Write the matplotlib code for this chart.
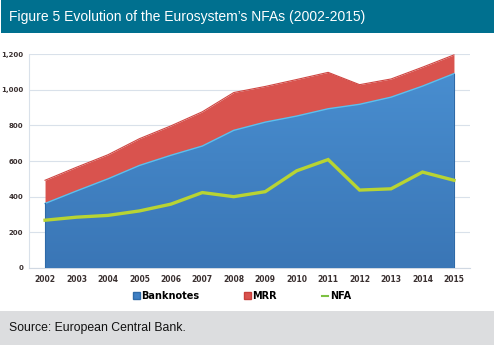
import numpy as np
import matplotlib.pyplot as plt
from matplotlib.patches import Rectangle
from matplotlib.colors import LinearSegmentedColormap

years = [2002, 2003, 2004, 2005, 2006, 2007, 2008, 2009, 2010, 2011, 2012, 2013, 2014, 2015]
banknotes = [362, 432, 500, 575, 632, 684, 772, 818, 852, 893, 918, 958, 1020, 1090]
mrr = [130, 133, 135, 150, 165, 192, 212, 200, 205, 204, 110, 102, 106, 105]
nfa = [268, 285, 295, 320, 358, 423, 400, 428, 545, 608, 437, 444, 538, 492]
yticks = [0, 200, 400, 600, 800, 1000, 1200]

total = [b + m for b, m in zip(banknotes, mrr)]

W, H = 494, 345
fig = plt.figure(figsize=(W / 100, H / 100), dpi=100)
fig.patch.set_facecolor('white')

# header and footer bands
fig.patches.append(Rectangle((1 / W, 1 - 33 / H), 1, 33 / H, transform=fig.transFigure,
                             facecolor='#00708F', edgecolor='none', zorder=0))
fig.patches.append(Rectangle((0, 0), 1, 34 / H, transform=fig.transFigure,
                             facecolor='#DCDDDF', edgecolor='none', zorder=0))
fig.text(9 / W, 1 - 16.5 / H, "Figure 5 Evolution of the Eurosystem\u2019s NFAs (2002-2015)",
         color='white', fontsize=10, family='Liberation Sans', va='center', ha='left')
fig.text(9 / W, 17 / H, "Source: European Central Bank.", color='#111111',
         fontsize=8.8, family='Liberation Sans', va='center', ha='left')

ax = fig.add_axes([29 / W, 1 - 268 / H, 441 / W, 214 / H])
ax.set_xlim(2001.49, 2015.51)
ax.set_ylim(0, 1200)

# stacked areas
ax.fill_between(years, banknotes, total, color='#D9534E', linewidth=0, zorder=2)
ax.plot(years, total, color='#CF4642', linewidth=0.8, zorder=3)

blue = ax.fill_between(years, 0, banknotes, color='none', linewidth=0, zorder=3)
grad = np.linspace(0, 1, 256).reshape(-1, 1)
cmap = LinearSegmentedColormap.from_list('bl', ['#3A76B6', '#4A90D2'])
img = ax.imshow(grad, extent=[2002, 2015, 0, 1200], origin='lower', cmap=cmap,
                aspect='auto', zorder=3)
img.set_clip_path(blue.get_paths()[0], transform=ax.transData)
ax.plot(years, banknotes, color='#5BC0EE', linewidth=1.0, zorder=4)
ax.plot([2002, 2002], [0, banknotes[0]], color='#2E6AA8', linewidth=0.8, zorder=4)
ax.plot([2015, 2015], [0, banknotes[-1]], color='#2E6AA8', linewidth=0.8, zorder=4)

ax.plot(years, nfa, color='#B8D433', linewidth=2.4, zorder=5, solid_joinstyle='miter')

ax.set_xticks(years)
ax.set_xticklabels([str(y) for y in years])
ax.set_yticks(yticks)
ax.set_yticklabels([f"{v:,}" for v in yticks])
ax.tick_params(length=0, colors='#3A3030')
ax.tick_params(axis='x', labelsize=5.5, pad=5)
ax.tick_params(axis='y', labelsize=5, pad=4)
for lab in ax.get_xticklabels() + ax.get_yticklabels():
    lab.set_fontweight('bold')
ax.grid(axis='y', color='#D9E1EA', linewidth=0.8, zorder=0)
ax.set_axisbelow(True)
for s in ['top', 'right']:
    ax.spines[s].set_visible(False)
ax.spines['left'].set_color('#D9E1EA')
ax.spines['bottom'].set_color('#D0D8E2')

# legend
handles = [Rectangle((0, 0), 1, 1, facecolor='#3F80C4', edgecolor='#2E6AA8'),
           Rectangle((0, 0), 1, 1, facecolor='#D9534E', edgecolor='#C8403C'),
           plt.Line2D([0], [0], color='#7DC142', linewidth=1.5)]
fig.legend(handles, ['Banknotes', 'MRR', 'NFA'], loc='center', bbox_to_anchor=(242 / W, 1 - 296 / H),
           ncol=3, frameon=False, handlelength=0.7, handleheight=0.7,
           handletextpad=0.15, columnspacing=4.6, prop={'weight': 'bold', 'size': 7})

fig.savefig('out.png', dpi=100)
